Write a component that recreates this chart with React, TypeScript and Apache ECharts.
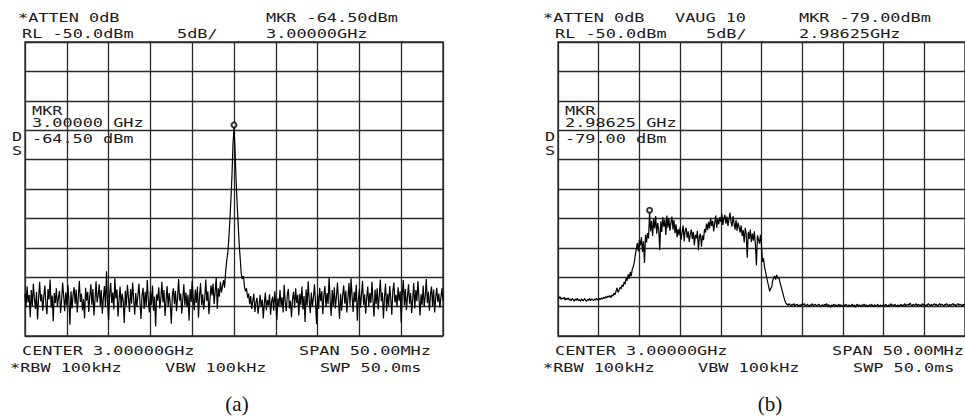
import React, { useEffect, useRef } from "react";
import * as echarts from "echarts";

// Spectrum analyzer settings
const CENTER_MHZ = 3000;
const SPAN_MHZ = 50;
const REF_LEVEL = -50;
const DB_PER_DIV = 5;
const DIVS = 10;

// Trace (a): CW tone at 3.00000 GHz, 401 points across the 50 MHz span (dBm)
const traceA: number[] = [
  -92.8, -95.1, -91.6, -94.3, -93.0, -96.8, -92.2, -94.9, -91.1, -93.7,
  -95.4, -92.5, -97.2, -93.6, -90.8, -94.1, -92.9, -95.7, -93.3, -91.4,
  -94.6, -96.3, -92.0, -93.8, -90.4, -95.2, -93.1, -97.5, -92.7, -94.4,
  -91.9, -95.0, -93.5, -92.3, -96.1, -94.0, -90.9, -93.2, -95.8, -92.6,
  -94.8, -91.3, -93.9, -98.1, -92.4, -95.3, -93.0, -91.7, -94.5, -92.1,
  -96.0, -93.4, -90.6, -94.2, -92.8, -95.6, -93.7, -97.0, -91.8, -94.0,
  -92.5, -95.9, -93.3, -91.2, -94.7, -92.0, -96.5, -93.8, -90.7, -94.3,
  -93.1, -91.2, -94.9, -92.2, -96.2, -93.5, -91.5, -95.1, -89.0, -94.6,
  -97.3, -93.0, -91.0, -94.4, -92.6, -95.5, -90.2, -93.6, -92.1, -96.7,
  -93.9, -91.6, -95.2, -92.8, -94.1, -97.8, -92.3, -94.8, -91.3, -93.4,
  -95.9, -92.0, -94.5, -90.9, -93.7, -96.4, -92.7, -95.0, -93.2, -91.1,
  -94.2, -97.1, -93.0, -91.8, -95.4, -92.5, -94.9, -90.5, -93.8, -96.0,
  -92.4, -94.7, -91.4, -95.7, -93.3, -98.4, -92.9, -94.0, -91.7, -95.3,
  -93.6, -90.8, -94.3, -92.2, -96.6, -93.9, -91.5, -95.0, -92.7, -94.5,
  -97.9, -93.1, -91.9, -94.6, -92.3, -95.8, -93.4, -90.3, -94.0, -92.8,
  -96.2, -93.7, -91.2, -94.8, -92.6, -95.1, -93.0, -97.4, -92.0, -94.2,
  -90.6, -93.5, -95.6, -92.1, -94.4, -91.6, -96.9, -93.2, -91.0, -94.7,
  -92.9, -95.5, -93.6, -90.4, -94.1, -92.4, -96.3, -93.8, -91.4, -93.1,
  -91.1, -94.6, -92.3, -90.1, -95.4, -91.9, -93.3, -90.8, -92.6, -91.5,
  -90.5, -91.8, -89.0, -87.2, -86.0, -83.5, -80.5, -77.0, -73.0, -67.5,
  -64.5, -68.5, -73.5, -77.5, -81.0, -84.5, -87.0, -89.5, -90.3, -89.8,
  -91.6, -92.4, -91.9, -93.5, -92.8, -94.6,
  -93.2, -95.4, -94.0, -92.8, -95.9, -94.3, -93.5, -96.2, -94.7, -93.0,
  -95.1, -93.8, -97.0, -94.5, -92.6, -95.6, -93.9, -94.8, -92.9, -96.4,
  -94.1, -93.3, -95.7, -92.4, -94.6, -97.3, -93.6, -95.0, -92.2, -94.9,
  -93.4, -96.0, -91.3, -94.2, -95.8, -93.1, -92.0, -95.3, -94.0, -96.8,
  -93.7, -92.5, -95.2, -91.9, -94.4, -93.0, -96.5, -92.8, -94.7, -91.6,
  -95.5, -93.2, -97.6, -92.1, -94.8, -90.7, -93.9, -96.1, -92.6, -95.0,
  -93.5, -91.2, -94.3, -98.0, -92.9, -95.4, -91.8, -94.1, -92.4, -96.3,
  -93.0, -91.5, -95.1, -92.7, -94.6, -90.0, -93.8, -96.6, -92.2, -94.9,
  -91.7, -95.3, -93.4, -90.9, -94.0, -97.1, -92.8, -95.7, -93.1, -91.4,
  -94.5, -92.3, -96.0, -93.6, -91.0, -94.8, -90.2, -93.3, -95.9, -92.5,
  -94.2, -91.3, -97.4, -93.7, -92.0, -95.2, -93.0, -90.6, -94.7, -92.9,
  -96.2, -93.5, -91.6, -95.0, -92.7, -94.4, -90.8, -93.9, -96.7, -92.1,
  -94.6, -91.9, -95.5, -93.2, -90.4, -94.1, -92.6, -97.0, -93.4, -91.1,
  -95.8, -92.8, -94.9, -91.5, -93.6, -96.4, -92.3, -90.9, -94.3, -93.0,
  -95.1, -91.7, -94.0, -92.4, -97.7, -93.1, -90.5, -94.8, -92.0, -95.6,
  -93.3, -91.2, -94.5, -92.7, -96.1, -93.8, -91.0, -95.3, -92.2, -94.1,
  -90.7, -93.6, -96.5, -92.9, -94.7, -91.4, -95.0, -93.2, -90.3, -94.4,
  -92.5, -95.7, -93.0, -91.6, -94.9, -92.1, -96.0, -93.5, -91.8, -94.2,
  -92.8, -95.2, -93.4, -91.9, -94.0,
];

// Trace (b): wideband signal, video averaged (VAVG 10), 401 points (dBm)
const traceB: number[] = [
  -93.4, -93.6, -93.3, -93.8, -93.5, -93.7, -93.4, -93.9, -93.6, -93.8,
  -93.5, -93.9, -93.7, -94.0, -93.6, -93.8, -94.1, -93.7, -93.9, -93.6,
  -94.0, -93.8, -94.1, -93.7, -93.9, -94.0, -93.6, -93.9, -94.1, -93.8,
  -93.9, -93.6, -94.0, -93.7, -93.8, -94.0, -93.7, -93.9, -93.6, -93.8,
  -93.9, -93.6, -93.8, -93.5, -93.7, -93.4, -93.6, -93.3, -93.5, -93.2,
  -93.4, -93.1, -93.5, -93.0, -93.2, -92.7, -93.0, -92.4, -91.8, -92.6,
  -92.2, -91.7, -92.0, -91.3, -91.6, -90.8, -91.2, -90.1, -90.6, -89.5,
  -90.3, -89.1, -89.8, -88.6, -88.2, -87.4, -86.2, -85.1, -84.2, -85.6,
  -83.7, -84.6, -83.2, -85.7, -83.9, -87.6, -82.8, -84.1, -82.5, -83.4,
  -79.0, -82.2, -80.4, -83.0, -80.1, -81.7, -79.6, -82.6, -80.8, -81.9,
  -85.4, -80.5, -82.3, -79.8, -81.4, -80.2, -82.8, -79.5, -81.6, -80.0,
  -82.1, -80.7, -79.7, -81.9, -80.3, -82.5, -81.0, -83.2, -81.8, -82.9,
  -81.5, -83.6, -82.4, -81.2, -83.9, -82.0, -81.6, -83.3, -82.2, -84.0,
  -82.7, -81.9, -83.5, -82.3, -84.6, -82.8, -83.4, -82.1, -85.4, -83.0,
  -82.6, -84.8, -82.9, -83.7, -81.8, -82.4, -80.9, -82.0, -80.6, -81.7,
  -79.9, -81.3, -80.4, -82.2, -80.8, -79.5, -81.6, -80.1, -81.0, -79.8,
  -80.6, -79.2, -81.1, -80.0, -79.4, -80.9, -79.7, -81.3, -80.2, -79.0,
  -80.5, -81.4, -79.6, -80.8, -81.9, -80.3, -82.1, -80.7, -81.5, -82.4,
  -81.2, -83.0, -82.0, -84.1, -81.6, -82.7, -86.7, -82.3, -83.5, -81.9,
  -84.0, -82.6, -83.8, -82.2, -84.5, -88.0, -82.9, -83.6, -84.3, -82.8,
  -84.6, -87.4, -86.8, -88.3, -89.1, -90.0, -90.8, -91.5, -92.4, -91.9,
  -91.7, -90.6, -90.1, -89.8, -90.4, -89.6, -90.2, -90.0, -90.8, -91.4,
  -92.1, -92.7, -93.4, -94.0, -94.4, -94.6, -94.8, -94.5, -94.7, -94.9,
  -94.6, -94.8, -94.5, -94.9, -94.7, -94.6, -94.9, -94.7, -95.0, -94.6,
  -94.8, -94.7, -94.5, -94.8, -94.9, -94.6, -94.8, -95.0, -94.7, -94.8,
  -94.5, -94.9, -94.7, -94.6, -94.9, -94.8, -94.6, -94.7, -95.0, -94.8,
  -94.7, -94.9, -94.6, -94.8, -94.5, -94.9, -94.7, -94.8, -95.1, -94.7,
  -94.9, -94.6, -94.8, -94.7, -95.0, -94.8, -94.6, -94.9, -94.7, -94.8,
  -95.0, -94.7, -94.9, -94.6, -94.8, -95.0, -94.7, -94.9, -94.8, -94.6,
  -94.9, -94.7, -95.1, -94.8, -94.6, -94.9, -94.7, -94.8, -95.0, -94.7,
  -94.8, -94.6, -94.9, -94.7, -95.0, -94.8, -94.7, -94.9, -94.6, -94.8,
  -95.0, -94.7, -94.8, -94.9, -94.6, -94.8, -95.0, -94.7, -94.9, -94.8,
  -94.7, -94.9, -94.6, -94.8, -95.0, -94.7, -94.9, -94.5, -94.8, -94.7,
  -94.9, -94.6, -94.8, -95.0, -94.7, -94.9, -94.8, -94.6, -94.9, -94.7,
  -94.8, -94.5, -94.9, -94.7, -94.6, -94.8, -94.4, -94.7, -94.9, -94.6,
  -94.8, -94.7, -94.5, -94.9, -94.6, -94.8, -94.7, -94.9, -94.5, -94.8,
  -94.6, -94.9, -94.7, -94.8, -94.5, -94.7, -94.9, -94.6, -94.8, -94.7,
  -94.5, -94.8, -94.6, -94.9, -94.7, -94.5, -94.8, -94.6, -94.7, -94.9,
  -94.6, -94.8, -94.5, -94.7, -94.9, -94.6, -94.8, -94.7, -94.5, -94.8,
  -94.6, -94.9, -94.7, -94.5, -94.8, -94.6, -94.7, -94.9, -94.6, -94.8,
  -94.7,
];

// Markers [freq MHz, level dBm]
const markerA: [number, number] = [3000.0, -64.5];
const markerB: [number, number] = [2986.25, -79.0];

// Annotation texts
const headerA = ["*ATTEN 0dB", "MKR -64.50dBm", "RL -50.0dBm", "5dB/", "3.00000GHz"];
const headerB = ["*ATTEN 0dB", "VAUG 10", "MKR -79.00dBm", "RL -50.0dBm", "5dB/", "2.98625GHz"];
const mkrA = ["MKR", "3.00000 GHz", "-64.50 dBm"];
const mkrB = ["MKR", "2.98625 GHz", "-79.00 dBm"];
const footer = ["CENTER 3.00000GHz", "SPAN 50.00MHz", "*RBW 100kHz", "VBW 100kHz", "SWP 50.0ms"];
const captions = ["(a)", "(b)"];

const MONO = "'DejaVu Sans Mono', 'Liberation Mono', monospace";

function toPairs(trace: number[]): [number, number][] {
  const start = CENTER_MHZ - SPAN_MHZ / 2;
  const step = SPAN_MHZ / (trace.length - 1);
  return trace.map((v, i) => [start + i * step, v]);
}

function monoText(x: number, y: number, text: string) {
  return {
    type: "text",
    x,
    y,
    scaleX: 1.35,
    silent: true,
    style: {
      text,
      fill: "#1a1a1a",
      font: `12.5px ${MONO}`,
      textAlign: "left",
      textVerticalAlign: "middle",
    },
  };
}

export default function App() {
  const ref = useRef<HTMLDivElement>(null);

  useEffect(() => {
    if (!ref.current) return;
    const chart = echarts.init(ref.current, null, { renderer: "svg" });

    const xMin = CENTER_MHZ - SPAN_MHZ / 2;
    const xMax = CENTER_MHZ + SPAN_MHZ / 2;
    const yMin = REF_LEVEL - DB_PER_DIV * DIVS;

    const gridLine = { show: true, lineStyle: { color: "#2a2a2a", width: 1.3 } };
    const mkAxisX = (gridIndex: number) => ({
      type: "value",
      gridIndex,
      min: xMin,
      max: xMax,
      interval: SPAN_MHZ / DIVS,
      axisLabel: { show: false },
      axisTick: { show: false },
      axisLine: { show: false },
      splitLine: gridLine,
    });
    const mkAxisY = (gridIndex: number) => ({
      type: "value",
      gridIndex,
      min: yMin,
      max: REF_LEVEL,
      interval: DB_PER_DIV,
      axisLabel: { show: false },
      axisTick: { show: false },
      axisLine: { show: false },
      splitLine: gridLine,
    });

    const texts: any[] = [];
    const offB = 533;
    // Panel (a) header
    texts.push(monoText(18, 17.5, headerA[0]));
    texts.push(monoText(266, 17.5, headerA[1]));
    texts.push(monoText(22, 33, headerA[2]));
    texts.push(monoText(177, 33, headerA[3]));
    texts.push(monoText(266, 33, headerA[4]));
    // Panel (b) header
    texts.push(monoText(543, 17.5, headerB[0]));
    texts.push(monoText(675, 17.5, headerB[1]));
    texts.push(monoText(799, 17.5, headerB[2]));
    texts.push(monoText(555, 33, headerB[3]));
    texts.push(monoText(706, 33, headerB[4]));
    texts.push(monoText(799, 33, headerB[5]));
    [mkrA, mkrB].forEach((m, k) => {
      const o = k * offB;
      texts.push(monoText(32 + o, 110, m[0]));
      texts.push(monoText(32 + o, 122, m[1]));
      texts.push(monoText(32 + o, 138, m[2]));
      texts.push(monoText(12 + o, 136, "D"));
      texts.push(monoText(12 + o, 150, "S"));
      texts.push(monoText(22 + o, 350.5, footer[0]));
      texts.push(monoText(299 + o, 350.5, footer[1]));
      texts.push(monoText(10 + o, 367.5, footer[2]));
      texts.push(monoText(165 + o, 367.5, footer[3]));
      texts.push(monoText(320 + o, 367.5, footer[4]));
      texts.push({
        type: "text",
        x: 237 + o,
        y: 404,
        silent: true,
        style: {
          text: captions[k],
          fill: "#111",
          font: "21px 'Liberation Serif', 'Times New Roman', serif",
          textAlign: "center",
          textVerticalAlign: "middle",
        },
      });
    });

    const traceSeries = (idx: number, data: number[]) => ({
      type: "line",
      xAxisIndex: idx,
      yAxisIndex: idx,
      data: toPairs(data),
      showSymbol: false,
      symbol: "none",
      lineStyle: { color: "#000", width: 1.2 },
      z: 3,
    });
    const markerSeries = (idx: number, p: [number, number]) => ({
      type: "scatter",
      xAxisIndex: idx,
      yAxisIndex: idx,
      data: [[p[0], p[1] + 0.4]],
      symbol: "emptyCircle",
      symbolSize: 5,
      itemStyle: { color: "#000", borderColor: "#000", borderWidth: 1 },
      z: 5,
    });

    chart.setOption({
      animation: false,
      backgroundColor: "#fff",
      grid: [
        { left: 25, top: 42, width: 418, height: 294, show: true, borderColor: "#2a2a2a", borderWidth: 1.3 },
        { left: 558, top: 42, width: 418, height: 294, show: true, borderColor: "#2a2a2a", borderWidth: 1.3 },
      ],
      xAxis: [mkAxisX(0), mkAxisX(1)],
      yAxis: [mkAxisY(0), mkAxisY(1)],
      series: [
        traceSeries(0, traceA),
        traceSeries(1, traceB),
        markerSeries(0, markerA),
        markerSeries(1, markerB),
      ],
      graphic: texts,
    });

    return () => chart.dispose();
  }, []);

  return (
    <div
      ref={ref}
      style={{ position: "absolute", left: 0, top: 0, width: 965, height: 419, background: "#fff" }}
    />
  );
}
